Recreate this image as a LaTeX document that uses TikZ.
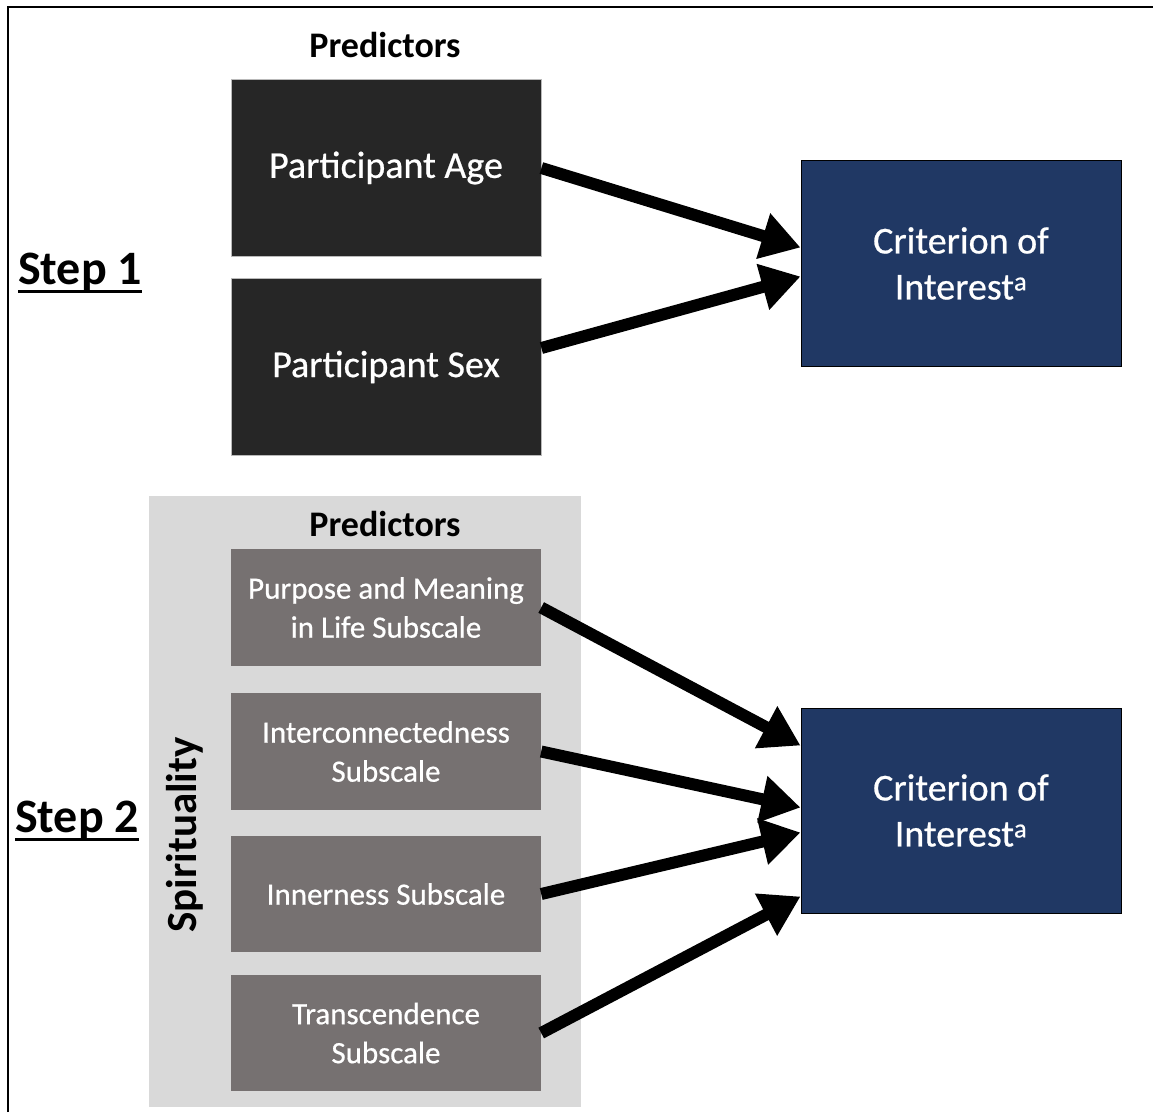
\documentclass[tikz,border=0pt]{standalone}
\usepackage{fontspec}
\setmainfont{Carlito}
% slightly heavier face for white text on dark fills
\newfontfamily\boxfont{Carlito}[FakeBold=0.6]
\usetikzlibrary{arrows.meta}

\definecolor{boxdark}{HTML}{262626}
\definecolor{boxnavy}{HTML}{203864}
\definecolor{boxgray}{HTML}{767171}
\definecolor{panelgray}{HTML}{D9D9D9}

% heavy underline for the step labels
\newcommand\thickul[1]{\setbox0\hbox{#1}\rlap{\rule[-9pt]{\wd0}{3.5pt}}\box0}

\tikzset{
  demobox/.style={rectangle, fill=boxdark, draw=gray!55, line width=0.8pt,
    text=white, align=center, inner sep=0pt,
    minimum width=310pt, minimum height=177pt,
    font=\boxfont\fontsize{38}{46}\selectfont},
  subbox/.style={rectangle, fill=boxgray, draw=none,
    text=white, align=center, inner sep=0pt,
    minimum width=310pt, minimum height=117pt,
    font=\boxfont\fontsize{31}{39}\selectfont},
  critbox/.style={rectangle, fill=boxnavy, draw=black, line width=1pt,
    text=white, align=center, inner sep=0pt,
    minimum width=320pt, minimum height=206pt,
    font=\boxfont\fontsize{38}{46}\selectfont},
  heading/.style={font=\bfseries\fontsize{36}{40}\selectfont, inner sep=0pt},
  steplabel/.style={font=\bfseries\fontsize{48}{54}\selectfont, inner sep=0pt,
    anchor=base west},
  link/.style={line width=12pt, -{Triangle[length=39pt,width=45pt]}},
}

\begin{document}
\begin{tikzpicture}[x=1pt, y=-1pt]
  \useasboundingbox (0,0) rectangle (1153,1112);
  \fill[white] (0,0) rectangle (1153,1112);

  % outer frame
  \draw[line width=2pt] (8,1112) -- (8,7) -- (1153,7);

  % step 1
  \node[heading] (pred1) at (385,45) {Predictors};
  \node[demobox] (age) at (386,168) {Participant Age};
  \node[demobox] (sex) at (386,367) {Participant Sex};
  \node[critbox] (crit1) at (961,263.5) {Criterion of\\Interest\textsuperscript{a}};
  \node[steplabel] (step1) at (18,284) {\thickul{Step 1}};

  \draw[link] (age.east) -- ([yshift=16pt]crit1.west);
  \draw[link] ([yshift=19pt]sex.east) -- ([yshift=-13pt]crit1.west);

  % step 2
  \node[rectangle, fill=panelgray, minimum width=432pt, minimum height=611pt,
        inner sep=0pt] (panel) at (365,801.5) {};
  \node[heading] (pred2) at (385,524) {Predictors};
  \node[subbox] (purpose) at (386,607.5) {Purpose and Meaning\\in Life Subscale};
  \node[subbox] (inter) at (386,751.5) {Interconnectedness\\Subscale};
  \node[subbox, minimum height=116pt] (inner) at (386,894) {Innerness Subscale};
  \node[subbox, minimum height=116pt] (trans) at (386,1033) {Transcendence\\Subscale};
  \node[font=\bfseries\fontsize{43}{48}\selectfont, inner sep=0pt, rotate=90]
        (spirit) at (185,835) {Spirituality};
  \node[critbox, minimum height=205pt] (crit2) at (961,810.5) {Criterion of\\Interest\textsuperscript{a}};
  \node[steplabel] (step2) at (15,832) {\thickul{Step 2}};

  \draw[link] (purpose.east) -- ([yshift=65pt]crit2.west);
  \draw[link] (inter.east) -- ([yshift=3pt]crit2.west);
  \draw[link] (inner.east) -- ([yshift=-22pt]crit2.west);
  \draw[link] (trans.east) -- ([yshift=-86pt]crit2.west);
\end{tikzpicture}
\end{document}
